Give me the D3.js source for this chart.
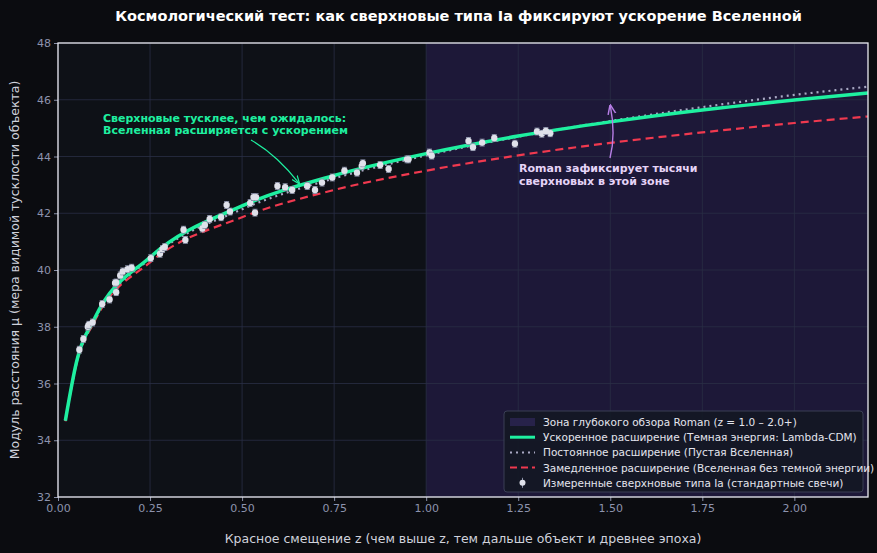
<!DOCTYPE html>
<html><head><meta charset="utf-8">
<script src="https://cdn.jsdelivr.net/npm/d3@7"></script>
<style>
body{margin:0;background:#0b0c10;font-family:"DejaVu Sans",sans-serif;}
</style></head><body>
<svg id="chart" width="877" height="553"></svg>
<script>
// model curves
const curveZ      = [0.02, 0.05, 0.1, 0.25, 0.5, 0.75, 1.0, 1.25, 1.5, 1.75, 2.0, 2.2];
const muLambda    = [34.69, 36.74, 38.31, 40.45, 42.26, 43.33, 44.10, 44.72, 45.22, 45.64, 45.99, 46.24];
const muEmpty     = [34.69, 36.71, 38.26, 40.40, 42.14, 43.23, 44.04, 44.70, 45.25, 45.74, 46.17, 46.46];
const muDecel     = [34.67, 36.68, 38.21, 40.27, 41.86, 42.82, 43.50, 44.04, 44.48, 44.85, 45.18, 45.41];

// measured supernovae
const snZ  = [.058,.069,.081,.084,.094,.120,.140,.155,.158,.158,.169,.176,.189,.200,.252,.277,.284,.290,.341,.346,
              .392,.399,.412,.443,.467,.458,.522,.531,.538,.535,.596,.617,.636,.677,.698,.717,.745,.778,.812,.825,
              .828,.875,.898,.948,.952,1.009,1.015,1.115,1.127,1.152,1.185,1.241,1.301,1.314,1.337,1.325];
const snMu = [37.19,37.57,38.0,38.07,38.15,38.80,38.96,39.54,39.56,39.22,39.81,39.95,40.03,40.08,40.42,40.57,40.74,40.81,41.42,41.06,
              41.46,41.59,41.80,41.86,42.06,42.29,42.36,42.57,42.57,42.02,42.96,42.92,42.82,42.96,42.82,43.08,43.26,43.50,43.43,43.67,
              43.76,43.70,43.56,43.90,43.90,44.14,44.03,44.55,44.33,44.49,44.65,44.45,44.88,44.80,44.82,44.90];
const snErr = 0.12;

const xTicks = [0, 0.25, 0.5, 0.75, 1.0, 1.25, 1.5, 1.75, 2.0];
const yTicks = [32, 34, 36, 38, 40, 42, 44, 46, 48];

const svg = d3.select("#chart");
const m = {l: 58, r: 9, t: 43, b: 56};
const W = 877, H = 553;

const x = d3.scaleLinear().domain([0, 2.2]).range([m.l, W - m.r]);
const y = d3.scaleLinear().domain([32, 48]).range([H - m.b, m.t]);

svg.append("rect").attr("x", m.l).attr("y", m.t)
    .attr("width", W - m.l - m.r).attr("height", H - m.t - m.b).attr("fill", "#0e1117");
// Roman zone
svg.append("rect").attr("x", x(1)).attr("y", m.t)
    .attr("width", x(2.2) - x(1)).attr("height", H - m.t - m.b).attr("fill", "#1d1838");

// grid
svg.append("g").selectAll("line").data(xTicks).join("line")
    .attr("x1", d => x(d)).attr("x2", d => x(d)).attr("y1", m.t).attr("y2", H - m.b)
    .attr("stroke", "#2a2f45").attr("stroke-width", 0.8);
svg.append("g").selectAll("line").data(yTicks).join("line")
    .attr("x1", m.l).attr("x2", W - m.r).attr("y1", d => y(d)).attr("y2", d => y(d))
    .attr("stroke", "#2a2f45").attr("stroke-width", 0.8);

// axes
const xAxis = svg.append("g").attr("transform", `translate(0,${H - m.b})`)
    .call(d3.axisBottom(x).tickValues(xTicks).tickFormat(d3.format(".2f")).tickSize(4));
const yAxis = svg.append("g").attr("transform", `translate(${m.l},0)`)
    .call(d3.axisLeft(y).tickValues(yTicks).tickSize(4));
[xAxis, yAxis].forEach(a => {
    a.select(".domain").remove();
    a.selectAll("line").attr("stroke", "#8a90a8");
    a.selectAll("text").attr("fill", "#8d93ad").style("font-size", "11px").style("font-family", "DejaVu Sans");
});

const clip = svg.append("clipPath").attr("id", "clip").append("rect")
    .attr("x", m.l).attr("y", m.t).attr("width", W - m.l - m.r).attr("height", H - m.t - m.b);

const line = vals => d3.line().x((d, i) => x(curveZ[i])).y(d => y(d)).curve(d3.curveMonotoneX)(vals);
const g = svg.append("g").attr("clip-path", "url(#clip)");

g.append("path").attr("d", line(muDecel)).attr("fill", "none")
    .attr("stroke", "#f0394f").attr("stroke-width", 2.2).attr("stroke-dasharray", "8,5");
g.append("path").attr("d", line(muEmpty)).attr("fill", "none")
    .attr("stroke", "#a9a9c4").attr("stroke-width", 2.2).attr("stroke-dasharray", "2,4");
g.append("path").attr("d", line(muLambda)).attr("fill", "none")
    .attr("stroke", "#1ef0a0").attr("stroke-width", 3.5);

// supernovae
const sn = g.append("g").selectAll("g").data(snZ).join("g");
sn.append("line").attr("x1", d => x(d)).attr("x2", d => x(d))
    .attr("y1", (d, i) => y(snMu[i] + snErr)).attr("y2", (d, i) => y(snMu[i] - snErr))
    .attr("stroke", "#8a90a8").attr("stroke-width", 1);
sn.selectAll(".cap").data((d, i) => [[d, snMu[i] + snErr], [d, snMu[i] - snErr]]).join("line")
    .attr("x1", d => x(d[0]) - 2.5).attr("x2", d => x(d[0]) + 2.5)
    .attr("y1", d => y(d[1])).attr("y2", d => y(d[1])).attr("stroke", "#8a90a8");
sn.append("circle").attr("cx", d => x(d)).attr("cy", (d, i) => y(snMu[i]))
    .attr("r", 3.2).attr("fill", "#dfe1ea");

// frame
svg.append("rect").attr("x", m.l).attr("y", m.t)
    .attr("width", W - m.l - m.r).attr("height", H - m.t - m.b)
    .attr("fill", "none").attr("stroke", "#e8e8ee").attr("stroke-width", 1.3);

// title and labels
svg.append("text").attr("x", W / 2 + 20).attr("y", 21).attr("text-anchor", "middle")
    .attr("fill", "#ffffff").style("font-size", "14.5px").style("font-weight", "bold")
    .text("Космологический тест: как сверхновые типа Ia фиксируют ускорение Вселенной");
svg.append("text").attr("x", (m.l + W - m.r) / 2).attr("y", 543).attr("text-anchor", "middle")
    .attr("fill", "#d0d2dc").style("font-size", "12.5px")
    .text("Красное смещение z (чем выше z, тем дальше объект и древнее эпоха)");
svg.append("text").attr("transform", `translate(19,${(m.t + H - m.b) / 2}) rotate(-90)`)
    .attr("text-anchor", "middle").attr("fill", "#d0d2dc").style("font-size", "12.5px")
    .text("Модуль расстояния μ (мера видимой тусклости объекта)");

// annotations
const defs = svg.append("defs");
[["arrG", "#1ef0a0"], ["arrP", "#b77ee6"]].forEach(([id, c]) => {
    defs.append("marker").attr("id", id).attr("viewBox", "0 0 10 10").attr("refX", 9).attr("refY", 5)
        .attr("markerWidth", 7).attr("markerHeight", 7).attr("orient", "auto")
        .append("path").attr("d", "M0,1 L10,5 L0,9").attr("fill", "none").attr("stroke", c).attr("stroke-width", 1.5);
});
const ann1 = svg.append("text").attr("fill", "#1ef0a0").style("font-size", "11px").style("font-weight", "bold");
ann1.append("tspan").attr("x", 103).attr("y", 122).text("Сверхновые тусклее, чем ожидалось:");
ann1.append("tspan").attr("x", 103).attr("y", 134).text("Вселенная расширяется с ускорением");
svg.append("path").attr("d", `M251,140 Q277,155 ${x(0.655)},${y(43.05)}`)
    .attr("fill", "none").attr("stroke", "#1ef0a0").attr("stroke-width", 1.2).attr("marker-end", "url(#arrG)");

const ann2 = svg.append("text").attr("fill", "#e6d4f7").style("font-size", "11px").style("font-weight", "bold");
ann2.append("tspan").attr("x", 519).attr("y", 172).text("Roman зафиксирует тысячи");
ann2.append("tspan").attr("x", 519).attr("y", 185).text("сверхновых в этой зоне");
svg.append("path").attr("d", `M610,158 Q616,135 ${x(1.5)},${y(45.8)}`)
    .attr("fill", "none").attr("stroke", "#b77ee6").attr("stroke-width", 1.4).attr("marker-end", "url(#arrP)");

// legend
const lg = svg.append("g").attr("transform", "translate(504,411)");
lg.append("rect").attr("width", 359).attr("height", 81).attr("rx", 3)
    .attr("fill", "#141824").attr("fill-opacity", 0.92).attr("stroke", "#3a3f55");
const items = [
    ["zone", "Зона глубокого обзора Roman (z = 1.0 – 2.0+)"],
    ["lcdm", "Ускоренное расширение (Темная энергия: Lambda-CDM)"],
    ["empty", "Постоянное расширение (Пустая Вселенная)"],
    ["decel", "Замедленное расширение (Вселенная без темной энергии)"],
    ["sn", "Измеренные сверхновые типа Ia (стандартные свечи)"]
];
items.forEach(([k, label], i) => {
    const yy = 11 + i * 15.2;
    const it = lg.append("g").attr("transform", `translate(6,${yy})`);
    if (k === "zone") it.append("rect").attr("x", 0).attr("y", -4).attr("width", 25).attr("height", 8).attr("fill", "#27224a");
    if (k === "lcdm") it.append("line").attr("x2", 25).attr("stroke", "#1ef0a0").attr("stroke-width", 3);
    if (k === "empty") it.append("line").attr("x2", 25).attr("stroke", "#a9a9c4").attr("stroke-width", 2).attr("stroke-dasharray", "2,4");
    if (k === "decel") it.append("line").attr("x2", 25).attr("stroke", "#f0394f").attr("stroke-width", 2).attr("stroke-dasharray", "7,4");
    if (k === "sn") {
        it.append("line").attr("x1", 12.5).attr("x2", 12.5).attr("y1", -5).attr("y2", 5).attr("stroke", "#8a90a8");
        it.append("circle").attr("cx", 12.5).attr("r", 3).attr("fill", "#dfe1ea");
    }
    it.append("text").attr("x", 33).attr("y", 4).attr("fill", "#e4e5ee").style("font-size", "10.5px").text(label);
});
</script>
</body></html>
